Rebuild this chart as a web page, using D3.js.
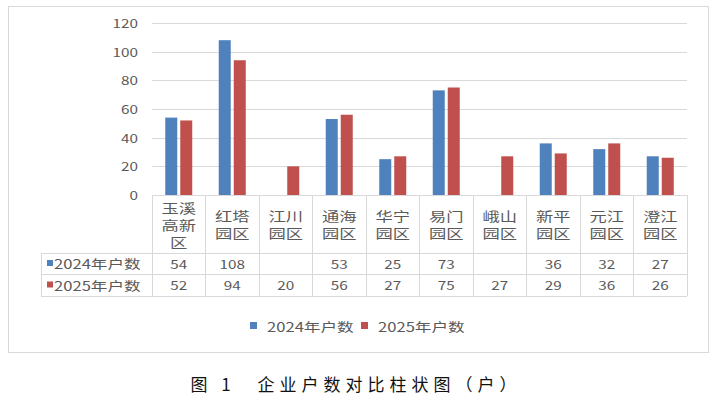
<!DOCTYPE html>
<head>
  <meta charset="utf-8">
  <script src="https://d3js.org/d3.v7.min.js"></script>
  <style>
    body { margin:0; background:white; }
    svg { display:block; }
    text { font-family: "Noto Sans CJK SC", sans-serif; fill:#595959; }
  </style>
</head>
<body>
<script>
  // chart data
  var categories = [["玉溪","高新","区"],["红塔","园区"],["江川","园区"],["通海","园区"],["华宁","园区"],
                    ["易门","园区"],["峨山","园区"],["新平","园区"],["元江","园区"],["澄江","园区"]];
  var seriesNames = ["2024年户数", "2025年户数"];
  var values2024 = [54, 108, null, 53, 25, 73, null, 36, 32, 27];
  var values2025 = [52, 94, 20, 56, 27, 75, 27, 29, 36, 26];
  var yTicks = [0, 20, 40, 60, 80, 100, 120];
  var caption = "图 1　企业户数对比柱状图（户）";

  var colors = ["#4F81BD", "#C0504D"];
  var grid = "#D9D9D9";
  var sx = 1.33; // text in the picture is stretched sideways

  var width = 713, height = 399;
  var svg = d3.select("body").append("svg").attr("width", width).attr("height", height);

  function label(g, x, y, str, size, anchor) {
    return g.append("text")
      .attr("transform", "translate(" + x + "," + y + ") scale(" + sx + ",1)")
      .attr("text-anchor", anchor || "middle")
      .attr("dominant-baseline", "central")
      .style("font-size", size + "px")
      .text(str);
  }

  // outer frame
  svg.append("rect").attr("x", 8.5).attr("y", 6.5).attr("width", 700).attr("height", 346)
    .attr("fill", "none").attr("stroke", grid);

  var plotL = 152, plotR = 687, plotT = 23, plotB = 195;
  var x = d3.scaleBand().domain(d3.range(categories.length)).range([plotL, plotR]);
  var y = d3.scaleLinear().domain([0, 120]).range([plotB, plotT]);

  // gridlines + y labels
  svg.append("g").selectAll("line").data(yTicks).enter().append("line")
    .attr("x1", plotL).attr("x2", plotR)
    .attr("y1", function(d){ return Math.round(y(d)) + 0.5; })
    .attr("y2", function(d){ return Math.round(y(d)) + 0.5; })
    .attr("stroke", grid);
  var yl = svg.append("g");
  yTicks.forEach(function(t){ label(yl, 138, y(t), t, 11.5, "end"); });

  // bars
  var barW = 12, gap = 3;
  var series = [values2024, values2025];
  series.forEach(function(vals, si){
    var g = svg.append("g");
    vals.forEach(function(v, i){
      if (v == null) return;
      var cx = x(i) + x.bandwidth() / 2;
      var bx = si === 0 ? cx - gap / 2 - barW : cx + gap / 2;
      g.append("rect").attr("x", bx).attr("y", y(v))
        .attr("width", barW).attr("height", y(0) - y(v))
        .attr("fill", colors[si]);
    });
  });

  // data table
  var tLeft = 41, rowTop = [195, 253, 274, 296];
  var tg = svg.append("g").attr("stroke", grid).attr("shape-rendering", "crispEdges");
  tg.append("line").attr("x1", plotL).attr("x2", plotR).attr("y1", rowTop[0]).attr("y2", rowTop[0]);
  [1, 2, 3].forEach(function(r){
    tg.append("line").attr("x1", tLeft).attr("x2", plotR).attr("y1", rowTop[r]).attr("y2", rowTop[r]);
  });
  tg.append("line").attr("x1", tLeft).attr("x2", tLeft).attr("y1", rowTop[1]).attr("y2", rowTop[3]);
  d3.range(categories.length + 1).forEach(function(i){
    var xx = i < categories.length ? x(i) : plotR;
    tg.append("line").attr("x1", xx).attr("x2", xx).attr("y1", rowTop[0]).attr("y2", rowTop[3]);
  });

  // category labels
  var cl = svg.append("g");
  categories.forEach(function(lines, i){
    var cx = x(i) + x.bandwidth() / 2;
    var mid = (rowTop[0] + rowTop[1]) / 2, pitch = 17;
    lines.forEach(function(s, k){
      label(cl, cx, mid + (k - (lines.length - 1) / 2) * pitch, s, 13);
    });
  });

  // value rows
  series.forEach(function(vals, si){
    var ry = (rowTop[si + 1] + rowTop[si + 2]) / 2;
    var g = svg.append("g");
    g.append("rect").attr("x", 47).attr("y", ry - 3.5).attr("width", 6).attr("height", 6).attr("fill", colors[si]);
    label(g, 54, ry, seriesNames[si], 12.5, "start");
    vals.forEach(function(v, i){
      if (v == null) return;
      label(g, x(i) + x.bandwidth() / 2, ry, v, 11.5);
    });
  });

  // legend
  var lg = svg.append("g");
  var lx = [250, 361];
  seriesNames.forEach(function(n, si){
    lg.append("rect").attr("x", lx[si]).attr("y", 322).attr("width", 7).attr("height", 7).attr("fill", colors[si]);
    label(lg, lx[si] + 17, 326, n, 12.5, "start");
  });

  // caption
  svg.append("text")
    .attr("x", 356).attr("y", 383)
    .attr("text-anchor", "middle").attr("dominant-baseline", "central")
    .style("font-size", "17px").style("fill", "#111").style("letter-spacing", "5px")
    .text(caption);
</script>
</body>
